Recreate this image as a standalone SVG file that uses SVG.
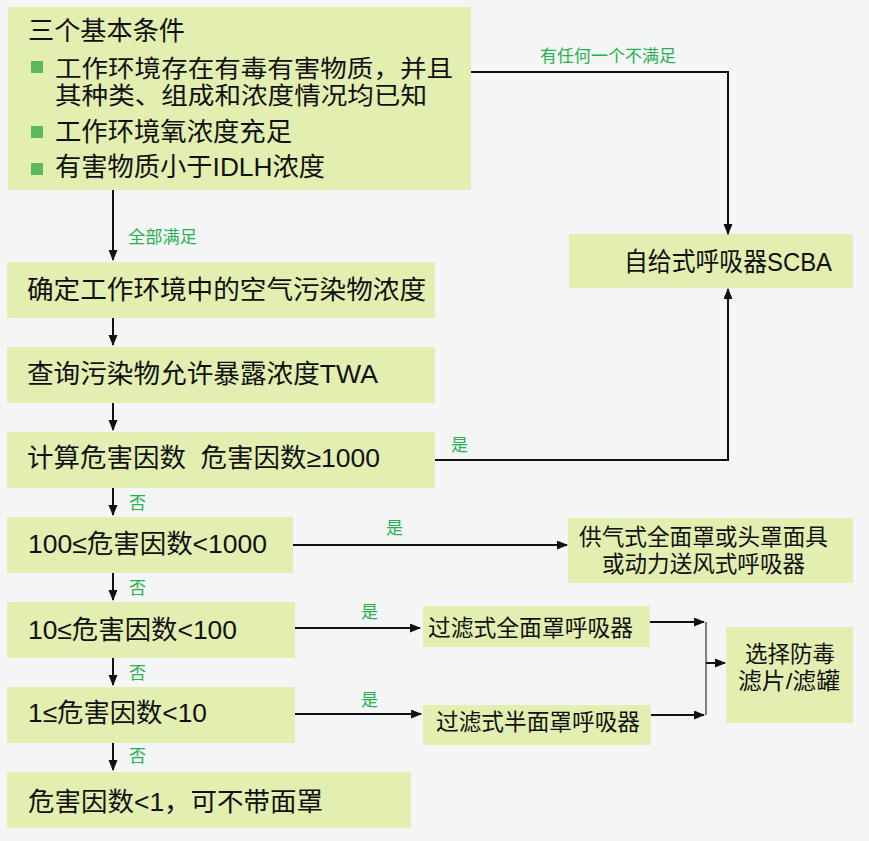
<svg xmlns="http://www.w3.org/2000/svg" width="869" height="841" viewBox="0 0 869 841">
<style>
.box{fill:#e3eeb1}
.t{font-family:"Liberation Sans","Noto Sans CJK SC",sans-serif;fill:#111;font-size:26px}
.m{font-size:24px}
.s{font-size:22.5px}
.g{font-family:"Liberation Sans","Noto Sans CJK SC",sans-serif;fill:#27b04f;font-size:17px}
.c{stroke:#111;stroke-width:2;fill:none}
.thin{stroke:#333;stroke-width:1.2;fill:none}
.bul{fill:#5cb85f}
</style>
<defs>
<marker id="ah" markerUnits="userSpaceOnUse" markerWidth="11" markerHeight="10" refX="10" refY="4.5" orient="auto">
<path d="M0,0 L11,4.5 L0,9 z" fill="#111"/>
</marker>
</defs>
<rect width="869" height="841" fill="#f4f5f5"/>

<g id="conditions">
<rect class="box" x="8" y="7" width="463" height="183"/>
<text class="t" x="28" y="40" textLength="157" lengthAdjust="spacingAndGlyphs">三个基本条件</text>
<rect class="bul" x="31" y="61" width="12" height="12"/>
<text class="t m" x="55" y="77" textLength="398" lengthAdjust="spacingAndGlyphs">工作环境存在有毒有害物质，并且</text>
<text class="t m" x="55" y="104" textLength="372" lengthAdjust="spacingAndGlyphs">其种类、组成和浓度情况均已知</text>
<rect class="bul" x="31" y="126" width="12" height="12"/>
<text class="t" x="55" y="141" textLength="237" lengthAdjust="spacingAndGlyphs">工作环境氧浓度充足</text>
<rect class="bul" x="31" y="163" width="12" height="12"/>
<text class="t" x="55" y="176" textLength="270" lengthAdjust="spacingAndGlyphs">有害物质小于IDLH浓度</text>
</g>

<g id="determine">
<rect class="box" x="7" y="262" width="428" height="56"/>
<text class="t" x="27" y="299" textLength="399" lengthAdjust="spacingAndGlyphs">确定工作环境中的空气污染物浓度</text>
</g>

<g id="query">
<rect class="box" x="7" y="347" width="428" height="56"/>
<text class="t" x="27" y="383" textLength="351" lengthAdjust="spacingAndGlyphs">查询污染物允许暴露浓度TWA</text>
</g>

<g id="calc">
<rect class="box" x="7" y="432" width="428" height="56"/>
<text class="t" x="27" y="467" textLength="353" lengthAdjust="spacingAndGlyphs" xml:space="preserve">计算危害因数  危害因数≥1000</text>
</g>

<g id="hf100">
<rect class="box" x="7" y="517" width="286" height="56"/>
<text class="t" x="28" y="553" textLength="239" lengthAdjust="spacingAndGlyphs">100≤危害因数&lt;1000</text>
</g>

<g id="hf10">
<rect class="box" x="7" y="602" width="288" height="56"/>
<text class="t" x="28" y="639" textLength="209" lengthAdjust="spacingAndGlyphs">10≤危害因数&lt;100</text>
</g>

<g id="hf1">
<rect class="box" x="7" y="687" width="288" height="56"/>
<text class="t" x="28" y="722" textLength="179" lengthAdjust="spacingAndGlyphs">1≤危害因数&lt;10</text>
</g>

<g id="hflt1">
<rect class="box" x="7" y="772" width="404" height="56"/>
<text class="t" x="28" y="811" textLength="295" lengthAdjust="spacingAndGlyphs">危害因数&lt;1，可不带面罩</text>
</g>

<g id="scba">
<rect class="box" x="569" y="234" width="284" height="54"/>
<text class="t" x="624" y="271" textLength="208" lengthAdjust="spacingAndGlyphs">自给式呼吸器SCBA</text>
</g>

<g id="supplied">
<rect class="box" x="568" y="518" width="285" height="65"/>
<text class="t s" x="703.5" y="545" text-anchor="middle" textLength="249" lengthAdjust="spacingAndGlyphs">供气式全面罩或头罩面具</text>
<text class="t s" x="703.5" y="572" text-anchor="middle" textLength="203" lengthAdjust="spacingAndGlyphs">或动力送风式呼吸器</text>
</g>

<g id="fullface">
<rect class="box" x="423" y="606" width="227" height="41"/>
<text class="t s" x="428" y="636" textLength="205" lengthAdjust="spacingAndGlyphs">过滤式全面罩呼吸器</text>
</g>

<g id="halfface">
<rect class="box" x="423" y="705" width="228" height="40"/>
<text class="t s" x="436" y="730" textLength="204" lengthAdjust="spacingAndGlyphs">过滤式半面罩呼吸器</text>
</g>

<g id="filter">
<rect class="box" x="726" y="627" width="127" height="96"/>
<text class="t s" x="745" y="662" textLength="90" lengthAdjust="spacingAndGlyphs">选择防毒</text>
<text class="t s" x="738" y="689" textLength="102" lengthAdjust="spacingAndGlyphs">滤片/滤罐</text>
</g>

<g id="connectors">
<path class="c" d="M471,72 H728 V234" marker-end="url(#ah)"/>
<path class="c" d="M113,190 V260" marker-end="url(#ah)"/>
<path class="c" d="M113,318 V345" marker-end="url(#ah)"/>
<path class="c" d="M113,403 V430" marker-end="url(#ah)"/>
<path class="c" d="M435,460 H728 V289" marker-end="url(#ah)"/>
<path class="c" d="M113,488 V515" marker-end="url(#ah)"/>
<path class="c" d="M293,545 H567" marker-end="url(#ah)"/>
<path class="c" d="M113,573 V600" marker-end="url(#ah)"/>
<path class="c" d="M295,628 H420" marker-end="url(#ah)"/>
<path class="c" d="M113,658 V685" marker-end="url(#ah)"/>
<path class="c" d="M295,714 H421" marker-end="url(#ah)"/>
<path class="c" d="M113,743 V770" marker-end="url(#ah)"/>
<path class="c" d="M650,622 H704" marker-end="url(#ah)"/>
<path class="c" d="M651,715 H704" marker-end="url(#ah)"/>
<path class="thin" d="M706,622 V715"/>
<path class="c" d="M706,663 H725" marker-end="url(#ah)"/>
<text class="g" x="540" y="62" textLength="136" lengthAdjust="spacingAndGlyphs">有任何一个不满足</text>
<text class="g" x="128" y="243" textLength="69" lengthAdjust="spacingAndGlyphs">全部满足</text>
<text class="g" x="451" y="451">是</text>
<text class="g" x="386" y="534">是</text>
<text class="g" x="361" y="618">是</text>
<text class="g" x="361" y="706">是</text>
<text class="g" x="129" y="509">否</text>
<text class="g" x="129" y="594">否</text>
<text class="g" x="129" y="679">否</text>
<text class="g" x="129" y="762">否</text>
</g>
</svg>
